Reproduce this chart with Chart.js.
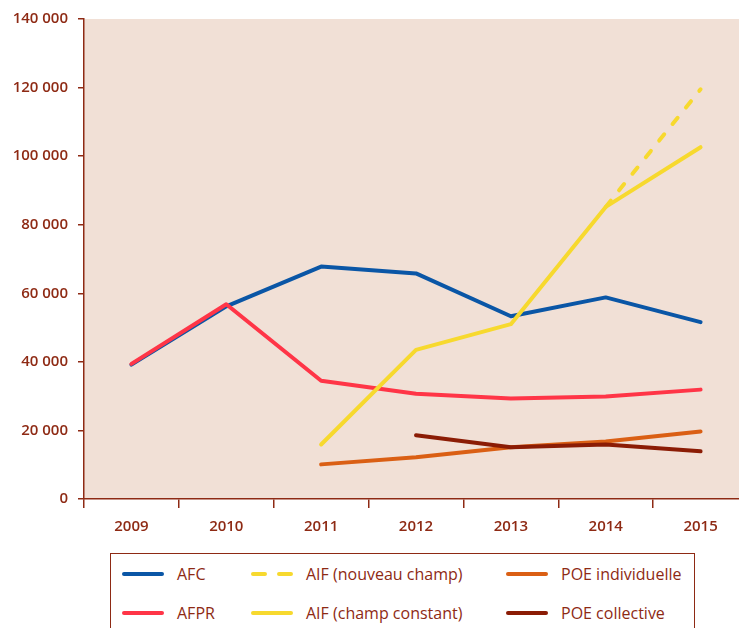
<!DOCTYPE html>
<html>
<head>
<meta charset="utf-8">
<script src="https://cdn.jsdelivr.net/npm/chart.js@4/dist/chart.umd.min.js"></script>
<style>
  html, body { margin: 0; padding: 0; background: #fff; overflow: hidden; }
  #wrap { position: relative; width: 739px; height: 628px; overflow: hidden; }
  #box { position: absolute; left: 0; top: 0; width: 750px; height: 545px; }
  #legend {
    position: absolute; left: 110px; top: 553px; width: 585px; height: 100px;
    border: 1px solid #8e2a14; box-sizing: border-box;
    font-family: "Open Sans", "Noto Sans", sans-serif; font-size: 16px; color: #8e2a14;
  }
  .item { position: absolute; display: flex; align-items: center; height: 20px; white-space: nowrap; }
  .item svg { margin-right: 13px; }
</style>
</head>
<body>
<div id="wrap">
  <div id="box"><canvas id="chart"></canvas></div>
  <div id="legend"></div>
</div>
<script>
  const TEXT = "#8e2a14";
  const FONT = '"Open Sans", "Noto Sans", sans-serif';

  const years = ["2009", "2010", "2011", "2012", "2013", "2014", "2015"];
  const yTicks = [0, 20000, 40000, 60000, 80000, 100000, 120000, 140000];

  const afc           = [39200, 56200, 67800, 65800, 53300, 58800, 51600];
  const afpr          = [39400, 56800, 34500, 30700, 29300, 29900, 31900];
  const aifNouveau    = [null, null, null, null, null, 85200, 119500];
  const aifConstant   = [null, null, 15900, 43500, 51000, 85200, 102600];
  const poeIndiv      = [null, null, 10100, 12200, 15100, 16800, 19700];
  const poeCollective = [null, null, null, 18600, 15100, 15900, 13900];

  const series = [
    { label: "AFC", data: afc, color: "#0a56a6", dash: [], order: 5 },
    { label: "AIF (nouveau champ)", data: aifNouveau, color: "#f7d92e", dash: [8, 13.3], order: 4 },
    { label: "POE individuelle", data: poeIndiv, color: "#da5f14", dash: [], order: 3 },
    { label: "AFPR", data: afpr, color: "#ff3547", dash: [], order: 2 },
    { label: "AIF (champ constant)", data: aifConstant, color: "#f7d92e", dash: [], order: 1 },
    { label: "POE collective", data: poeCollective, color: "#8b1c05", dash: [], order: 0 },
  ];

  const fmt = (v) => String(v).replace(/\B(?=(\d{3})+(?!\d))/g, " ");

  // plot background only inside chart area
  const plotBg = {
    id: "plotBg",
    beforeDraw(chart) {
      const a = chart.chartArea, ctx = chart.ctx;
      ctx.save();
      ctx.fillStyle = "#f1e0d6";
      ctx.fillRect(a.left, a.top, a.right - a.left, a.bottom - a.top);
      ctx.restore();
    },
  };

  new Chart(document.getElementById("chart"), {
    type: "line",
    data: {
      labels: years,
      datasets: series.map((s) => ({
        label: s.label, data: s.data,
        borderColor: s.color, backgroundColor: s.color,
        borderWidth: 4, borderDash: s.dash,
        borderCapStyle: "round", borderJoinStyle: "round",
        pointRadius: 0, tension: 0, fill: false, order: s.order,
      })),
    },
    options: {
      responsive: true, maintainAspectRatio: false, animation: false,
      layout: { padding: { top: 16, right: 2, left: 0, bottom: 0 } },
      plugins: { legend: { display: false }, tooltip: { enabled: false } },
      scales: {
        x: {
          offset: true,
          grid: { offset: true, drawOnChartArea: false, drawTicks: true, tickLength: 9, color: TEXT, lineWidth: 1.5 },
          border: { color: TEXT, width: 1.5 },
          ticks: { color: TEXT, padding: 10, font: { family: FONT, size: 15, weight: "600" } },
          afterFit: (s) => { s.height = 46; },
        },
        y: {
          min: 0, max: 140000,
          afterBuildTicks: (s) => { s.ticks = yTicks.map((v) => ({ value: v })); },
          grid: { drawOnChartArea: false, drawTicks: true, tickLength: 6, color: TEXT, lineWidth: 1.5 },
          border: { color: TEXT, width: 1.5 },
          ticks: { color: TEXT, padding: 10, callback: (v) => fmt(v), font: { family: FONT, size: 15, weight: "600" } },
          afterFit: (s) => { s.width = 84; },
        },
      },
    },
    plugins: [plotBg],
  });

  // legend box, 3 columns x 2 rows
  const legendOrder = ["AFC", "AIF (nouveau champ)", "POE individuelle", "AFPR", "AIF (champ constant)", "POE collective"];
  const colX = [11, 140, 395];
  const rowY = [10, 49];
  const legend = document.getElementById("legend");
  legendOrder.forEach((name, i) => {
    const s = series.find((d) => d.label === name);
    const el = document.createElement("div");
    el.className = "item";
    el.style.left = colX[i % 3] + "px";
    el.style.top = rowY[Math.floor(i / 3)] + "px";
    const dash = s.dash.length ? 'stroke-dasharray="12 14"' : "";
    el.innerHTML = `<svg width="42" height="6"><line x1="2" y1="3" x2="40" y2="3" stroke="${s.color}" stroke-width="4" stroke-linecap="round" ${dash}/></svg><span>${s.label}</span>`;
    legend.appendChild(el);
  });
</script>
</body>
</html>
